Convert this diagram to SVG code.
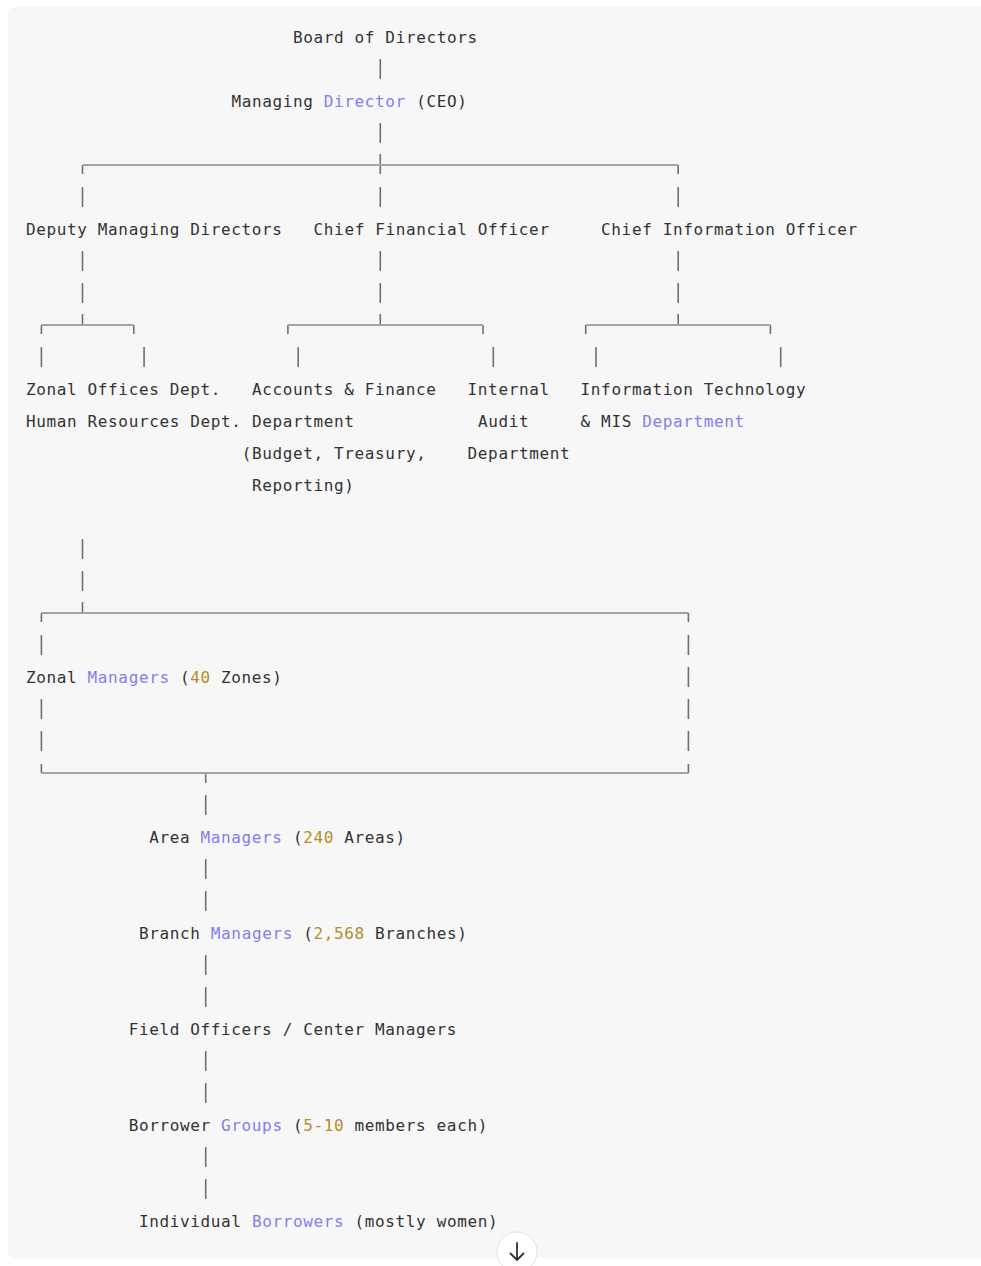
<svg xmlns="http://www.w3.org/2000/svg" width="981" height="1266" viewBox="0 0 981 1266">
<style>
text{font-family:"DejaVu Sans Mono","Liberation Mono",monospace;font-size:16px;letter-spacing:0.63px;fill:#333;white-space:pre}
.k{fill:#7f7ff0}
.n{fill:#b58d2c}
.v{stroke:#6e6e80;stroke-width:1.6;fill:none}
.h{stroke:#a3a3a3;stroke-width:2;fill:none}
</style>
<rect x="0" y="0" width="981" height="1266" fill="#ffffff"/>
<rect x="8" y="7" width="980" height="1251" rx="6" fill="#f7f7f7"/>
<g id="connectors">
<path class="v" d="M380.3 59V79M380.3 123V143M380.3 154V174M82.5 165V174M678.2 165V174M82.5 187V207M380.3 187V207M678.2 187V207M82.5 251V271M380.3 251V271M678.2 251V271M82.5 283V303M380.3 283V303M678.2 283V303M82.5 314V325M380.3 314V325M678.2 314V325M41.4 325V334M133.8 325V334M287.9 325V334M483 325V334M585.7 325V334M770.4 325V334M41.4 347V367M144.1 347V367M298.2 347V367M493.3 347V367M596 347V367M780.7 347V367M82.5 539V559M82.5 571V591M82.5 602V613M41.4 613V622M688.4 613V622M41.4 635V655M688.4 635V655M688.4 667V687M41.4 699V719M688.4 699V719M41.4 731V751M688.4 731V751M41.4 764V773M688.4 764V773M205.7 773V783M205.7 795V815M205.7 859V879M205.7 891V911M205.7 955V975M205.7 987V1007M205.7 1051V1071M205.7 1083V1103M205.7 1147V1167M205.7 1179V1199"/>
<path class="h" d="M82.5 165H678.2M41.4 325H133.8M287.9 325H483M585.7 325H770.4M41.4 613H688.4M41.4 773H688.4"/>
</g>
<g id="board"><text x="293" y="43">Board of Directors</text></g>
<g id="ceo"><text x="231.4" y="107">Managing <tspan class="k">Director</tspan> (CEO)</text></g>
<g id="dmd"><text x="26" y="235">Deputy Managing Directors</text></g>
<g id="cfo"><text x="313.6" y="235">Chief Financial Officer</text></g>
<g id="cio"><text x="601.1" y="235">Chief Information Officer</text></g>
<g id="zonal-hr"><text x="26" y="395">Zonal Offices Dept.</text><text x="26" y="427">Human Resources Dept.</text></g>
<g id="accounts"><text x="251.9" y="395">Accounts &amp; Finance</text><text x="251.9" y="427">Department</text><text x="241.7" y="459">(Budget, Treasury,</text><text x="251.9" y="491">Reporting)</text></g>
<g id="audit"><text x="467.6" y="395">Internal</text><text x="477.9" y="427">Audit</text><text x="467.6" y="459">Department</text></g>
<g id="it"><text x="580.6" y="395">Information Technology</text><text x="580.6" y="427">&amp; MIS <tspan class="k">Department</tspan></text></g>
<g id="zonal-managers"><text x="26" y="683">Zonal <tspan class="k">Managers</tspan> (<tspan class="n">40</tspan> Zones)</text></g>
<g id="area-managers"><text x="149.2" y="843">Area <tspan class="k">Managers</tspan> (<tspan class="n">240</tspan> Areas)</text></g>
<g id="branch-managers"><text x="139" y="939">Branch <tspan class="k">Managers</tspan> (<tspan class="n">2,568</tspan> Branches)</text></g>
<g id="field-officers"><text x="128.7" y="1035">Field Officers / Center Managers</text></g>
<g id="borrower-groups"><text x="128.7" y="1131">Borrower <tspan class="k">Groups</tspan> (<tspan class="n">5-10</tspan> members each)</text></g>
<g id="borrowers"><text x="139" y="1227">Individual <tspan class="k">Borrowers</tspan> (mostly women)</text></g>
<g id="scroll-button">
<circle cx="517" cy="1252" r="20" fill="#ffffff" stroke="#e2e2e2" stroke-width="1"/>
<path d="M517 1243V1260M510.5 1253.5L517 1260L523.5 1253.5" stroke="#333" stroke-width="1.8" fill="none" stroke-linecap="round" stroke-linejoin="round"/>
</g>
</svg>
